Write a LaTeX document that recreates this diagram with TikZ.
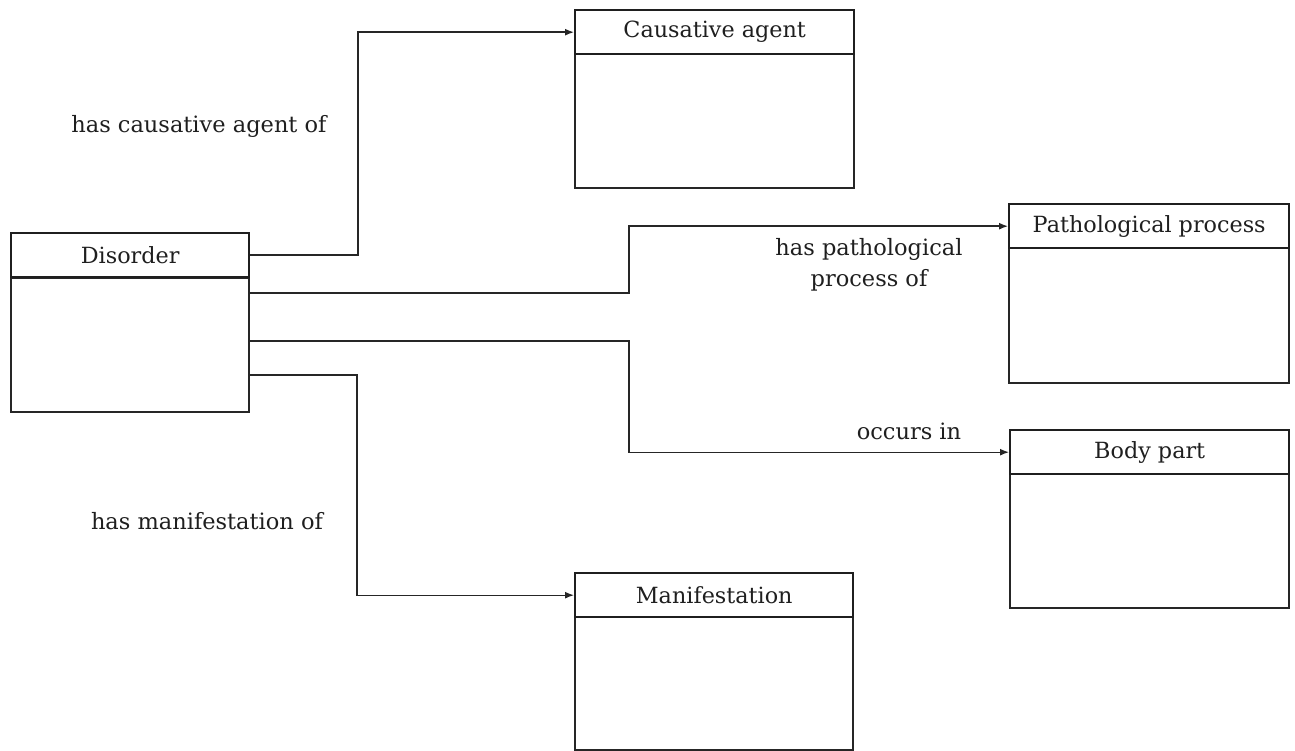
\documentclass[tikz,border=0pt]{standalone}
\usepackage{fontspec}
\setmainfont{DejaVu Serif}
\usetikzlibrary{arrows.meta}
\begin{document}
\begin{tikzpicture}[x=1pt,y=-1pt,
  hdr/.style={draw=black!88, line width=2.4pt, rectangle, anchor=north west, minimum width=#1, minimum height=44pt, inner sep=0pt, font=\fontsize{22.3}{26}\selectfont, text=black!88},
  bodybox/.style={draw=black!85, line width=2pt, rectangle, anchor=north west, minimum width=#1, inner sep=0pt},
  conn/.style={draw=black!85, line width=1.4pt, -{Latex[length=9pt,width=7pt]}},
  lbl/.style={font=\fontsize{22.5}{31}\selectfont, align=center, inner sep=0pt, text=black!88}]
\useasboundingbox (0,0) rectangle (1295,751);
% Disorder
\node[bodybox=238pt, minimum height=134pt] (disb) at (10,277) {};
\node[hdr=238pt] (dis) at (10,232) {Disorder};
% Causative agent
\node[bodybox=279pt, minimum height=134pt] (cab) at (574,53) {};
\node[hdr=279pt] (ca) at (574,9) {Causative agent};
% Pathological process
\node[bodybox=280pt, minimum height=135pt] (ppb) at (1008,247) {};
\node[hdr=280pt] (pp) at (1008,203) {Pathological process};
% Body part
\node[bodybox=279pt, minimum height=134pt] (bpb) at (1009,473) {};
\node[hdr=279pt] (bp) at (1009,429) {Body part};
% Manifestation
\node[bodybox=278pt, minimum height=133pt] (mab) at (574,616) {};
\node[hdr=278pt] (ma) at (574,572) {Manifestation};
% bend coordinates
\coordinate (b1) at (358,0);
\coordinate (b2) at (629,0);
\coordinate (b4) at (357,0);
% connectors
\draw[conn] (dis.east) -| (b1 |- ca.west) -- (ca.west);
\draw[conn] ([yshift=-16pt]disb.north east) -| (b2 |- pp.west) -- (pp.west);
\draw[conn] ([yshift=-64pt]disb.north east) -| (b2 |- bp.west) -- (bp.west);
\draw[conn] ([yshift=-98pt]disb.north east) -| (b4 |- ma.west) -- (ma.west);
% labels
\node[lbl] (l1) at (199,126) {has causative agent of};
\node[lbl] (l2) at (869,265) {has pathological\\process of};
\node[lbl] (l3) at (909,431) {occurs in};
\node[lbl] (l4) at (207,521) {has manifestation of};
\end{tikzpicture}
\end{document}
